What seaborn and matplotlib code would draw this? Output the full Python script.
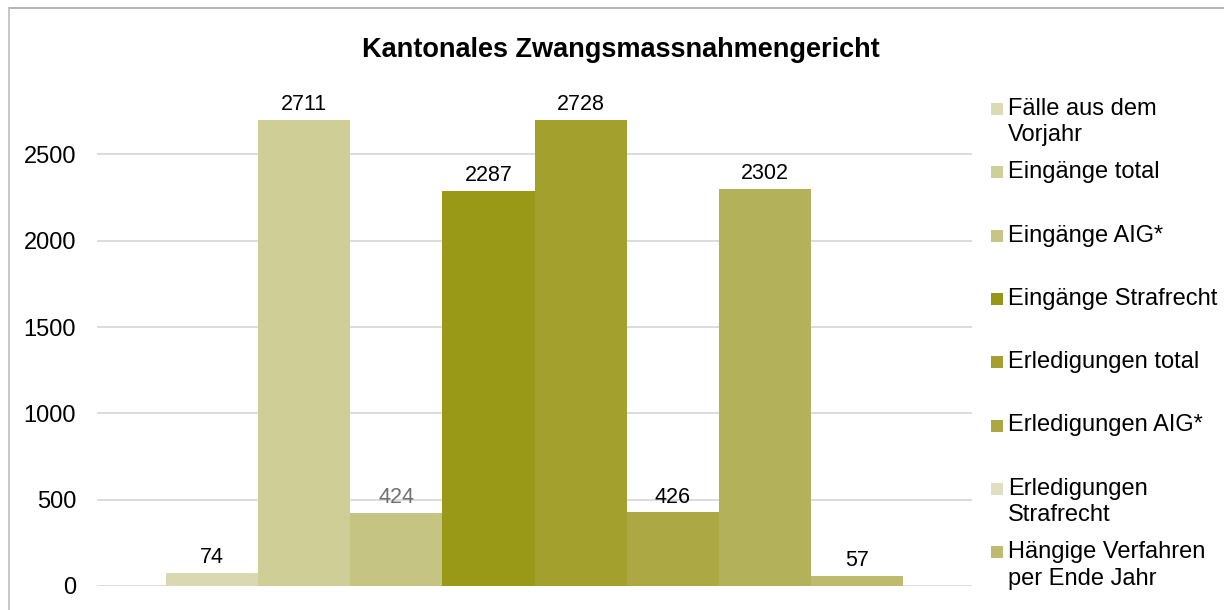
import matplotlib
matplotlib.use("Agg")
import matplotlib.pyplot as plt
from matplotlib.patches import Rectangle
from matplotlib.lines import Line2D
import seaborn as sns
import pandas as pd

# ---- data ----
title = "Kantonales Zwangsmassnahmengericht"
series = ["Fälle aus dem Vorjahr", "Eingänge total", "Eingänge AIG*", "Eingänge Strafrecht",
          "Erledigungen total", "Erledigungen AIG*", "Erledigungen Strafrecht",
          "Hängige Verfahren per Ende Jahr"]
legend_labels = ["Fälle aus dem\nVorjahr", "Eingänge total", "Eingänge AIG*", "Eingänge Strafrecht",
                 "Erledigungen total", "Erledigungen AIG*", "Erledigungen\nStrafrecht",
                 "Hängige Verfahren\nper Ende Jahr"]
values = [74, 2711, 424, 2287, 2728, 426, 2302, 57]
bar_colors = ["#d9d8b0", "#cfce97", "#c5c482", "#999817", "#a3a02e", "#aca944", "#b3b15a", "#bebb6e"]
legend_colors = ["#dcdab3", "#cfcf99", "#c6c585", "#989615", "#a3a030", "#aba844", "#e0dfc3", "#bdbb70"]
label_colors = ["#000000", "#000000", "#707070", "#000000", "#000000", "#000000", "#000000", "#000000"]
yticks = [0, 500, 1000, 1500, 2000, 2500]
y_max = 2700

df = pd.DataFrame({"cat": ["all"] * len(series), "series": series, "value": values})

sns.set_theme(style="white")
plt.rcParams["font.family"] = ["Liberation Sans", "DejaVu Sans"]
plt.rcParams["text.color"] = "#000000"
plt.rcParams["ytick.color"] = "#000000"
plt.rcParams["ytick.labelcolor"] = "#000000"

W, H = 1224, 610
fig = plt.figure(figsize=(W / 100, H / 100), dpi=100)
ax_left, ax_right, ax_bottom, ax_top = 97, 972, 586, 119.8
ax = fig.add_axes([ax_left / W, 1 - ax_bottom / H, (ax_right - ax_left) / W, (ax_bottom - ax_top) / H])

sns.barplot(data=df, x="cat", y="value", hue="series", hue_order=series,
            palette=bar_colors, width=0.842, gap=0, dodge=True, legend=False,
            saturation=1, ax=ax, edgecolor="none", linewidth=0)

ax.set_xlim(-0.5, 0.5)
ax.set_ylim(0, y_max)
ax.set_yticks(yticks)
ax.set_yticklabels([str(t) for t in yticks], fontsize=17, color="#000000")
ax.set_xticks([])
ax.set_xlabel("")
ax.set_ylabel("")
ax.tick_params(axis="y", length=0, pad=15)
for s in ax.spines.values():
    s.set_visible(False)
ax.yaxis.grid(True, color="#d9d9d9", linewidth=1.3)
ax.set_axisbelow(True)

# data labels (bars taller than the axis max are clipped at the top, label sits above)
for cont, c, v in zip(ax.containers, label_colors, values):
    for p in cont.patches:
        xc = p.get_x() + p.get_width() / 2
        ax.annotate(f"{v}", xy=(xc, min(v, y_max)), xytext=(0, 3.5), textcoords="offset points",
                    ha="center", va="bottom", fontsize=15.5, color=c, annotation_clip=False)

# title
fig.text(621 / W, 1 - 50 / H, title, ha="center", va="center", fontsize=19.5,
         fontweight="bold", color="#000000")

# legend (manual, evenly spaced as in original)
sw = 12
for i, (lab, col) in enumerate(zip(legend_labels, legend_colors)):
    yc = 109 + i * 63.3
    fig.patches.append(Rectangle((991 / W, 1 - (yc + sw / 2) / H), sw / W, sw / H,
                                 transform=fig.transFigure, facecolor=col, edgecolor="none"))
    for j, line in enumerate(lab.split("\n")):
        fig.text(1008 / W, 1 - (yc + j * 26.5) / H, line, ha="left", va="center",
                 fontsize=17, color="#000000")

# chart border
fig.lines.append(Line2D([9 / W, 1], [1 - 8 / H, 1 - 8 / H], transform=fig.transFigure, color="#a6a6a6", lw=1.2))
fig.lines.append(Line2D([9 / W, 9 / W], [0, 1 - 8 / H], transform=fig.transFigure, color="#bfbfbf", lw=1.2))

fig.savefig("out.png", dpi=100)
